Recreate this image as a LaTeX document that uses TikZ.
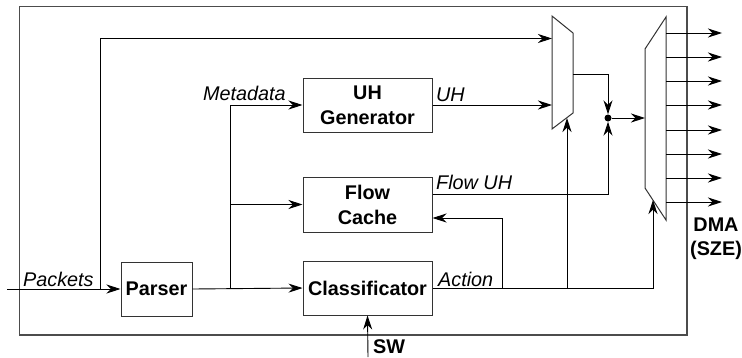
\documentclass[tikz,border=0pt]{standalone}
\usepackage{fontspec}
\setmainfont{Liberation Sans}
\usetikzlibrary{arrows.meta}
\begin{document}
\begin{tikzpicture}[x=1pt,y=-1pt,
  every node/.style={font=\fontsize{19.8}{25}\selectfont},
  blk/.style={draw=black!80, line width=1pt, minimum width=129pt, align=center, inner sep=0pt, font=\fontsize{19.8}{25}\selectfont\bfseries},
  wire/.style={line width=0.9pt, draw=black},
  arr/.style={wire, -{Stealth[length=14pt,width=9pt,inset=4.5pt]}},
  lbl/.style={inner sep=0pt, anchor=base west, font=\fontsize{19.8}{25}\selectfont\itshape},
  blbl/.style={inner sep=0pt, font=\fontsize{19.8}{23.5}\selectfont\bfseries},
  mux/.style={draw=black!80, line width=1pt, fill=white}
]
\useasboundingbox (0,0) rectangle (742,357);
% outer frame
\draw[draw=black!70, line width=1.1pt] (19.5,6.5) rectangle (687,335);

% blocks
\node[blk, minimum width=71pt, minimum height=54pt] (parser) at (156.5,289) {Parser};
\node[blk, minimum height=54pt] (cls) at (367.5,288) {Classificator};
\node[blk, minimum height=54pt] (uh) at (367.5,105) {UH\\Generator};
\node[blk, minimum height=55pt] (fc) at (367.5,204.5) {Flow\\Cache};

% multiplexers
\draw[mux] (552,16) -- (573,33) -- (573,113) -- (552,129) -- cycle;
\draw[mux] (645,49) -- (666,17) -- (666,220) -- (645,188) -- cycle;
\coordinate (m1top) at (552,38.5);
\coordinate (m1uh) at (552,105);
\coordinate (m1out) at (573,74);
\coordinate (m1bot) at (567,118);
\coordinate (m2in) at (645,118);
\coordinate (m2bot) at (653,200);
\node[circle, fill=black, inner sep=0pt, minimum size=7pt] (dot) at (608,118) {};

% input
\coordinate (pin) at (7,289);
\coordinate (b1) at (100,289);
\draw[arr] (pin) -- (parser.west);
\draw[arr] (b1) -- (100,38.5) -- (m1top);
\node[lbl] (pk) at (23,286) {Packets};

% parser to blocks
\coordinate (b2) at (230,289);
\draw[arr] (parser.east) -- (cls.west);
\draw[arr] (b2) -- (230,105) -- (uh.west);
\draw[arr] (230,204.5) -- (fc.west);
\node[lbl] (md) at (203,100.7) {Metadata};

% UH
\draw[arr] (uh.east) -- (m1uh);
\node[lbl] (uhl) at (436,101) {UH};
\draw[arr] (m1out) -- (608,74) -- (dot.north);

% Flow UH
\draw[arr] (fc.east |- 0,194) -- (608,194) -- (dot.south);
\node[lbl] (fuh) at (436,189) {Flow UH};

% dot to mux2
\draw[arr] (dot.east) -- (m2in);

% Action
\coordinate (b3) at (502,288);
\coordinate (b4) at (567,288);
\draw[arr] (cls.east) -- (653,288) -- (m2bot);
\draw[arr] (b4) -- (m1bot);
\draw[arr] (b3) -- (502,218) -- (fc.east |- 0,218);
\node[lbl] (act) at (438,286) {Action};

% SW
\coordinate (swin) at (368,357);
\draw[arr] (swin) -- (cls.south);
\node[blbl, anchor=base west] (sw) at (373,353) {SW};

% outputs
\foreach \yy/\nm in {33/o1,57/o2,81/o3,105/o4,130/o5,154/o6,178/o7,202/o8}{
  \coordinate (\nm s) at (666,\yy);
  \coordinate (\nm e) at (722,\yy);
  \draw[arr] (\nm s) -- (\nm e);
}
\node[blbl, anchor=base, align=center] (dma) at (716,255) {DMA\\(SZE)};
\end{tikzpicture}
\end{document}
